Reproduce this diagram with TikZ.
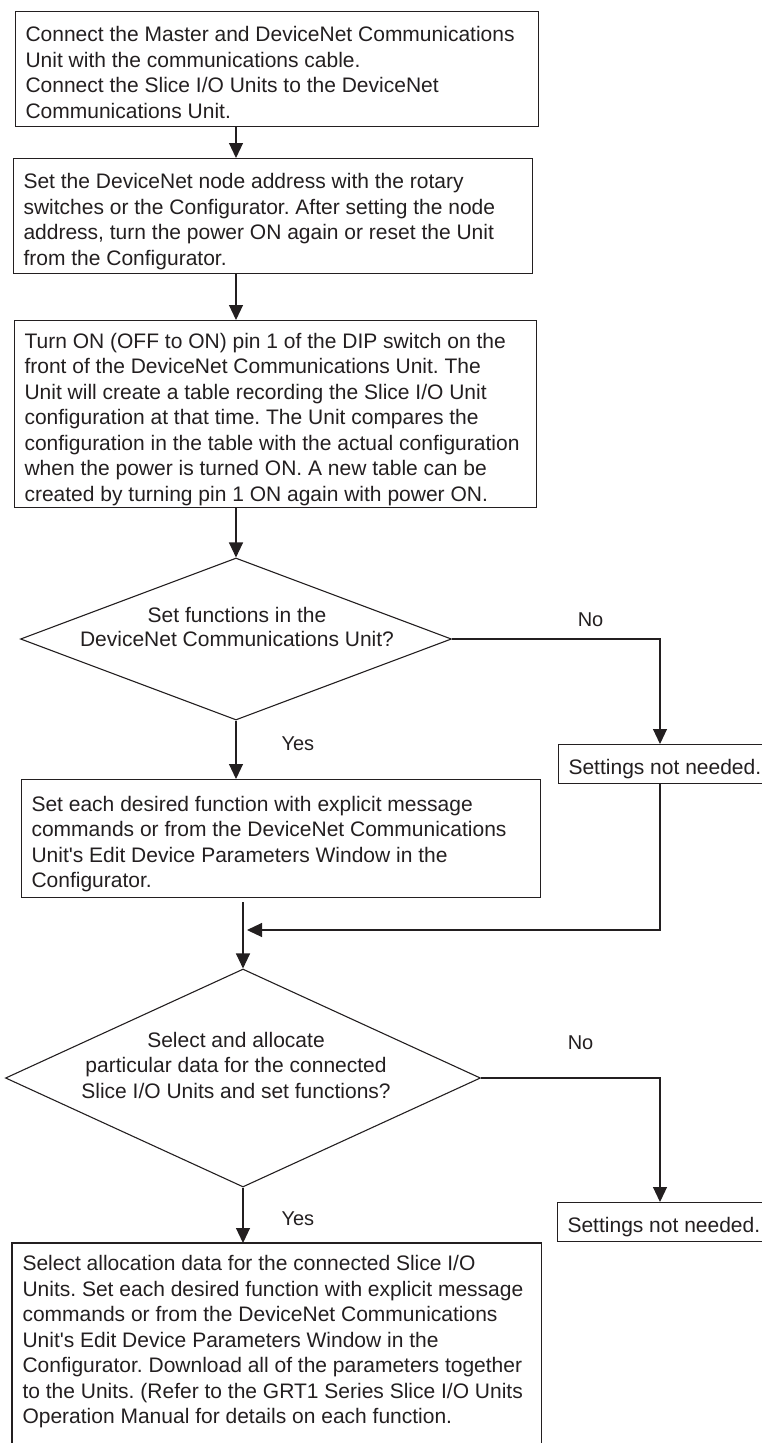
\documentclass[tikz,border=0pt]{standalone}
\usepackage{fontspec}
\setmainfont{Liberation Sans}
\usetikzlibrary{positioning, arrows.meta, shapes.geometric}
\definecolor{ink}{HTML}{231F20}
\tikzset{
  blk/.style={draw=ink, anchor=north west, align=left, inner xsep=10pt, inner ysep=0pt,
              font=\fontsize{21}{25.5}\selectfont\frenchspacing, text=ink,
              execute at begin node={\spaceskip=0pt\xspaceskip=0pt\rule{0pt}{26pt}},
              execute at end node={\rule[-4pt]{0pt}{4pt}}},
  ask/.style={diamond, draw=ink, inner sep=0pt},
  qtxt/.style={align=center, anchor=north, inner sep=0pt, text=ink},
  flow/.style={-{Triangle[length=15pt, width=14pt]}, draw=ink},
  lbl/.style={font=\fontsize{20}{24}\selectfont, inner sep=0pt, text=ink}
}

\begin{document}
\begin{tikzpicture}[x=1pt, y=1pt, line width=1.1pt]
  \useasboundingbox (0,0) rectangle (762,-1443);
  \coordinate (rail) at (660,0);
  \coordinate (join) at (247,-930);

  \node[blk, text width=503pt, minimum height=115pt] (b1) at (15,-11)
    {Connect the Master and DeviceNet Communications\\Unit with the communications cable.\\Connect the Slice I/O Units to the DeviceNet\\Communications Unit.};
  \node[blk, text width=499pt, minimum height=115pt] (b2) at (13,-158)
    {Set the DeviceNet node address with the rotary\\switches or the Configurator. After setting the node\\address, turn the power ON again or reset the Unit\\from the Configurator.};
  \node[blk, text width=502pt, minimum height=187pt] (b3) at (14,-320)
    {Turn ON (OFF to ON) pin 1 of the DIP switch on the\\front of the DeviceNet Communications Unit. The\\Unit will create a table recording the Slice I/O Unit\\configuration at that time. The Unit compares the\\configuration in the table with the actual configuration\\when the power is turned ON. A new table can be\\created by turning pin 1 ON again with power ON.};

  \node[ask, minimum width=431pt, minimum height=162pt] (d1) at (236,-639) {};
  \node[qtxt, font=\fontsize{21}{24}\selectfont] (q1) at (237,-606.7)
    {Set functions in the\\DeviceNet Communications Unit?};
  \node[blk, minimum height=39pt] (s1) at (558,-744) {Settings not needed.};
  \node[blk, text width=499pt, minimum height=118pt] (b4) at (21,-779)
    {Set each desired function with explicit message\\commands or from the DeviceNet Communications\\Unit\textquotesingle s Edit Device Parameters Window in the\\Configurator.};

  \node[ask, minimum width=475pt, minimum height=218pt] (d2) at (243,-1078) {};
  \node[qtxt, font=\fontsize{21}{25.5}\selectfont] (q2) at (236,-1031.5)
    {Select and allocate\\particular data for the connected\\Slice I/O Units and set functions?};
  \node[blk, minimum height=39pt] (s2) at (557,-1202) {Settings not needed.};
  \node[blk, draw=none, text width=508pt, inner ysep=1pt] (b5) at (12,-1243)
    {Select allocation data for the connected Slice I/O\\Units. Set each desired function with explicit message\\commands or from the DeviceNet Communications\\Unit\textquotesingle s Edit Device Parameters Window in the\\Configurator. Download all of the parameters together\\to the Units. (Refer to the GRT1 Series Slice I/O Units\\Operation Manual for details on each function.};
  \draw[ink] ([yshift=-300pt]b5.north west) -- (b5.north west) -- (b5.north east) -- ([yshift=-300pt]b5.north east);

  \draw[flow] (b1.south -| d1) -- (b2.north -| d1);
  \draw[flow] (b2.south -| d1) -- (b3.north -| d1);
  \draw[flow] (b3.south -| d1) -- (d1.north);
  \draw[flow] (d1.south) -- node[lbl, pos=.39, right=45pt] {Yes} (b4.north -| d1);
  \draw[flow] (d1.east) -| node[lbl, pos=.333, above=12pt] {No} (rail |- s1.north);
  \draw[flow] (rail |- s1.south) |- (join);
  \draw[flow, shorten <=4pt] (b4.south -| d2) -- (d2.north);
  \draw[flow] (d2.east) -| node[lbl, pos=.278, above=28pt] {No} (rail |- s2.north);
  \draw[flow] (d2.south) -- node[lbl, pos=.57, right=38pt] {Yes} (b5.north -| d2);
\end{tikzpicture}
\end{document}
